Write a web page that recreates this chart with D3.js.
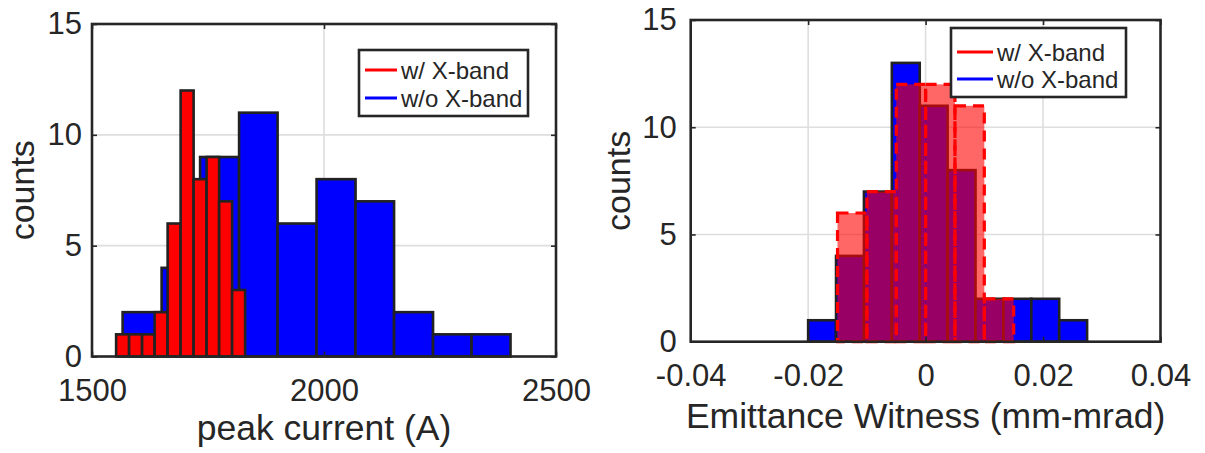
<!DOCTYPE html>
<html>
<head>
<meta charset="utf-8">
<script src="https://cdn.jsdelivr.net/npm/d3@7"></script>
<style>
  html, body { margin: 0; padding: 0; background: #fff; }
  svg { display: block; }
  text { font-family: "Liberation Sans", Arial, sans-serif; fill: #262626; }
</style>
</head>
<body>
<svg id="fig" width="1205" height="453"></svg>
<script>
// ---- Peak current histograms (A) ----
const peakEdgesWithout = [1566, 1650, 1733, 1817, 1900, 1984, 2068, 2151, 2235, 2318, 2402];
const peakCountsWithout = [2, 4, 9, 11, 6, 8, 7, 2, 1, 1];
const peakEdgesWith = [1552, 1580, 1608, 1635, 1663, 1691, 1719, 1747, 1774, 1802, 1830];
const peakCountsWith = [1, 1, 1, 2, 6, 12, 8, 9, 7, 3];
const peakXTicks = [1500, 2000, 2500];

// ---- Emittance witness histograms (mm-mrad) ----
const emitEdgesWithout = [-0.0200, -0.01525, -0.0105, -0.00575, -0.0010, 0.00375, 0.0085, 0.01325, 0.0180, 0.02275, 0.0275];
const emitCountsWithout = [1, 4, 7, 13, 11, 8, 2, 2, 2, 1];
const emitEdgesWith = [-0.015, -0.010, -0.005, 0.000, 0.005, 0.010, 0.015];
const emitCountsWith = [6, 7, 12, 12, 11, 2];
const emitXTicks = [-0.04, -0.02, 0, 0.02, 0.04];

const countTicks = [0, 5, 10, 15];
const legendLabels = ["w/ X-band", "w/o X-band"];

const svg = d3.select("#fig");
const AXIS = "#262626";
const GRID = "#dedede";

function toBins(edges, counts) {
  return counts.map((c, i) => ({ x0: edges[i], x1: edges[i + 1], n: c }));
}

function panel(opt) {
  const x = d3.scaleLinear().domain(opt.xDomain).range([opt.left, opt.right]);
  const y = d3.scaleLinear().domain([0, 15]).range([opt.bottom, opt.top]);
  const g = svg.append("g");

  // grid
  g.append("g").selectAll("line.gx")
    .data(opt.xTicks.filter(t => t > opt.xDomain[0] && t < opt.xDomain[1]))
    .join("line")
    .attr("x1", d => x(d)).attr("x2", d => x(d))
    .attr("y1", opt.top).attr("y2", opt.bottom)
    .attr("stroke", GRID).attr("stroke-width", 1.6);
  g.append("g").selectAll("line.gy")
    .data(countTicks.filter(t => t > 0 && t < 15))
    .join("line")
    .attr("x1", opt.left).attr("x2", opt.right)
    .attr("y1", d => y(d)).attr("y2", d => y(d))
    .attr("stroke", GRID).attr("stroke-width", 1.6);

  opt.draw(g, x, y);

  // axes (ticks pointing inward)
  const xa = g.append("g").attr("transform", `translate(0,${opt.bottom})`)
    .call(d3.axisBottom(x).tickValues(opt.xTicks).tickFormat(opt.xFormat)
      .tickSizeInner(-5).tickSizeOuter(0).tickPadding(opt.xPad));
  const ya = g.append("g").attr("transform", `translate(${opt.left},0)`)
    .call(d3.axisLeft(y).tickValues(countTicks).tickFormat(d3.format("d"))
      .tickSizeInner(-5).tickSizeOuter(0).tickPadding(opt.yPad));
  // top / right ticks
  g.append("g").attr("transform", `translate(0,${opt.top})`)
    .call(d3.axisTop(x).tickValues(opt.xTicks).tickFormat("").tickSizeInner(-5).tickSizeOuter(0));
  g.append("g").attr("transform", `translate(${opt.right},0)`)
    .call(d3.axisRight(y).tickValues(countTicks).tickFormat("").tickSizeInner(-5).tickSizeOuter(0));
  g.selectAll(".domain").remove();
  g.selectAll(".tick line").attr("stroke", AXIS).attr("stroke-width", 1.6);
  xa.selectAll("text").style("font-size", "31px").attr("fill", AXIS);
  ya.selectAll("text").style("font-size", "31px").attr("fill", AXIS);

  // frame
  g.append("rect")
    .attr("x", opt.left).attr("y", opt.top)
    .attr("width", opt.right - opt.left).attr("height", opt.bottom - opt.top)
    .attr("fill", "none").attr("stroke", AXIS).attr("stroke-width", 2.6);

  // axis titles
  g.append("text")
    .attr("x", (opt.left + opt.right) / 2).attr("y", opt.xLabelY)
    .attr("text-anchor", "middle").style("font-size", "35.5px")
    .text(opt.xLabel);
  g.append("text")
    .attr("transform", `translate(${opt.yLabelX},${(opt.top + opt.bottom) / 2}) rotate(-90)`)
    .attr("text-anchor", "middle").style("font-size", "34px")
    .text("counts");

  // legend
  const L = opt.legend;
  const lg = g.append("g");
  lg.append("rect").attr("x", L.x).attr("y", L.y).attr("width", L.w).attr("height", L.h)
    .attr("fill", "#fff").attr("stroke", AXIS).attr("stroke-width", 2.6);
  const colors = ["#ff0000", "#0000ff"];
  legendLabels.forEach((lab, i) => {
    const ly = L.y + L.row0 + i * L.rowH;
    lg.append("line").attr("x1", L.x + 6).attr("x2", L.x + 6 + L.lineW)
      .attr("y1", ly).attr("y2", ly)
      .attr("stroke", colors[i]).attr("stroke-width", 3);
    lg.append("text").attr("x", L.x + 10 + L.lineW).attr("y", ly + 8.5)
      .style("font-size", "24px").text(lab);
  });
}

// Left panel: peak current
panel({
  left: 92, right: 556, top: 24, bottom: 356.5,
  xDomain: [1500, 2500], xTicks: peakXTicks, xFormat: d3.format("d"),
  xPad: 22, yPad: 10,
  xLabel: "peak current (A)", xLabelY: 440, yLabelX: 34,
  legend: { x: 359, y: 50, w: 169, h: 66, row0: 20, rowH: 28, lineW: 32 },
  draw: (g, x, y) => {
    g.append("g").selectAll("rect")
      .data(toBins(peakEdgesWithout, peakCountsWithout))
      .join("rect")
      .attr("x", d => x(d.x0)).attr("width", d => x(d.x1) - x(d.x0))
      .attr("y", d => y(d.n)).attr("height", d => y(0) - y(d.n))
      .attr("fill", "#0000ff").attr("stroke", "#222").attr("stroke-width", 2.6);
    g.append("g").selectAll("rect")
      .data(toBins(peakEdgesWith, peakCountsWith))
      .join("rect")
      .attr("x", d => x(d.x0)).attr("width", d => x(d.x1) - x(d.x0))
      .attr("y", d => y(d.n)).attr("height", d => y(0) - y(d.n))
      .attr("fill", "#ff0000").attr("stroke", "#222").attr("stroke-width", 2.6);
  }
});

// Right panel: emittance witness
panel({
  left: 690.7, right: 1160.5, top: 20, bottom: 341.7,
  xDomain: [-0.04, 0.04], xTicks: emitXTicks,
  xFormat: d => d === 0 ? "0" : d3.format(".2f")(d).replace("−", "-"),
  xPad: 22, yPad: 14,
  xLabel: "Emittance Witness (mm-mrad)", xLabelY: 428, yLabelX: 630,
  legend: { x: 951, y: 28, w: 175, h: 69, row0: 24, rowH: 27, lineW: 36 },
  draw: (g, x, y) => {
    g.append("g").selectAll("rect")
      .data(toBins(emitEdgesWithout, emitCountsWithout))
      .join("rect")
      .attr("x", d => x(d.x0)).attr("width", d => x(d.x1) - x(d.x0))
      .attr("y", d => y(d.n)).attr("height", d => y(0) - y(d.n))
      .attr("fill", "#0000ff").attr("stroke", "#222").attr("stroke-width", 2.6);
    const red = g.append("g").selectAll("g")
      .data(toBins(emitEdgesWith, emitCountsWith))
      .join("g");
    red.append("rect")
      .attr("x", d => x(d.x0)).attr("width", d => x(d.x1) - x(d.x0))
      .attr("y", d => y(d.n)).attr("height", d => y(0) - y(d.n))
      .attr("fill", "#ff0000").attr("fill-opacity", 0.6)
      .attr("stroke", "#ff0000").attr("stroke-width", 3.2)
      .attr("stroke-dasharray", "11,7");
  }
});
</script>
</body>
</html>
